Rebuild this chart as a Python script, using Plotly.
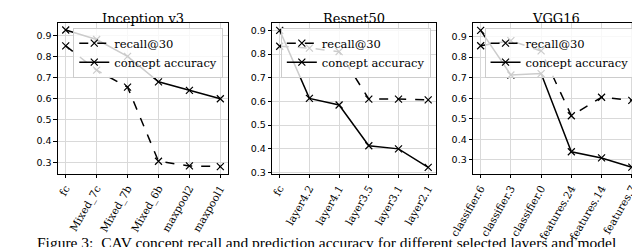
import plotly.graph_objects as go

titles = ["Inception v3", "Resnet50", "VGG16"]
layers_inc = ["fc", "Mixed_7c", "Mixed_7b", "Mixed_6b", "maxpool2", "maxpool1"]
layers_res = ["fc", "layer4.2", "layer4.1", "layer3.5", "layer3.1", "layer2.1"]
layers_vgg = ["classifier.6", "classifier.3", "classifier.0", "features.24", "features.14", "features.7"]

recall_inc = [0.85, 0.735, 0.655, 0.305, 0.283, 0.28]
acc_inc = [0.925, 0.88, 0.80, 0.68, 0.64, 0.60]
recall_res = [0.833, 0.825, 0.81, 0.61, 0.61, 0.607]
acc_res = [0.90, 0.613, 0.585, 0.413, 0.40, 0.322]
recall_vgg = [0.855, 0.88, 0.83, 0.515, 0.605, 0.59]
acc_vgg = [0.93, 0.713, 0.72, 0.34, 0.31, 0.265]

y_ranges = [[0.246, 0.959], [0.295, 0.932], [0.233, 0.967]]
caption = "Figure 3:  CAV concept recall and prediction accuracy for different selected layers and model"

W, H = 640, 247
x_px = [(26, 203), (249, 419), (458, 631)]
y_top, y_bot = 15, 168.5

fig = go.Figure()
data = [(layers_inc, recall_inc, acc_inc), (layers_res, recall_res, acc_res), (layers_vgg, recall_vgg, acc_vgg)]
serif = "DejaVu Serif, serif"
legends = {}
for i, (labels, rec, acc) in enumerate(data):
    n = i + 1
    xa = "x" if n == 1 else f"x{n}"
    ya = "y" if n == 1 else f"y{n}"
    lg = "legend" if n == 1 else f"legend{n}"
    xs = list(range(len(labels)))
    fig.add_trace(go.Scatter(x=xs, y=rec, mode="lines+markers", name="recall@30",
                             line=dict(color="black", width=1.5, dash="dash"),
                             marker=dict(symbol="x-thin", size=7, line=dict(color="black", width=1.2)),
                             xaxis=xa, yaxis=ya, legend=lg))
    fig.add_trace(go.Scatter(x=xs, y=acc, mode="lines+markers", name="concept accuracy",
                             line=dict(color="black", width=1.5),
                             marker=dict(symbol="x-thin", size=7, line=dict(color="black", width=1.2)),
                             xaxis=xa, yaxis=ya, legend=lg))
    x0, x1 = x_px[i]
    dom_x = [x0 / W, x1 / W]
    dom_y = [1 - y_bot / H, 1 - y_top / H]
    axis_common = dict(showline=True, linecolor="black", linewidth=1, mirror=True,
                       showgrid=True, gridcolor="#d9d9d9", gridwidth=1,
                       ticks="outside", ticklen=3.5, tickcolor="black", zeroline=False)
    fig.layout[("xaxis" if n == 1 else f"xaxis{n}")] = dict(
        domain=dom_x, anchor=ya, range=[-0.25, 5.25], tickmode="array",
        tickvals=xs, ticktext=labels, tickangle=-60,
        tickfont=dict(family=serif, size=10.5, color="black"), **axis_common)
    fig.layout[("yaxis" if n == 1 else f"yaxis{n}")] = dict(
        domain=dom_y, anchor=xa, range=y_ranges[i], tickmode="array",
        tickvals=[0.3, 0.4, 0.5, 0.6, 0.7, 0.8, 0.9],
        tickfont=dict(family="DejaVu Sans", size=9.5, color="black"), **axis_common)
    legends[lg] = dict(x=dom_x[1] - 5 / W, y=dom_y[1] - 5 / H, xanchor="right", yanchor="top",
                       bgcolor="rgba(255,255,255,0.8)", bordercolor="#cccccc", borderwidth=1,
                       font=dict(family=serif, size=11.5, color="black"),
                       tracegroupgap=0, itemwidth=30)
    fig.add_annotation(text=titles[i], x=(dom_x[0] + dom_x[1]) / 2, y=1 - 1 / H,
                       xref="paper", yref="paper", xanchor="center", yanchor="top",
                       showarrow=False, font=dict(family=serif, size=13, color="black"))

fig.add_annotation(text=caption, x=2 / W, y=1 - 228 / H, xref="paper", yref="paper",
                   xanchor="left", yanchor="top", showarrow=False,
                   font=dict(family="Liberation Serif", size=15.5, color="black"))

fig.update_layout(width=W, height=H, margin=dict(l=0, r=0, t=0, b=0),
                  paper_bgcolor="white", plot_bgcolor="white", showlegend=True,
                  font=dict(family=serif), **legends)
fig.write_html("out.html")
